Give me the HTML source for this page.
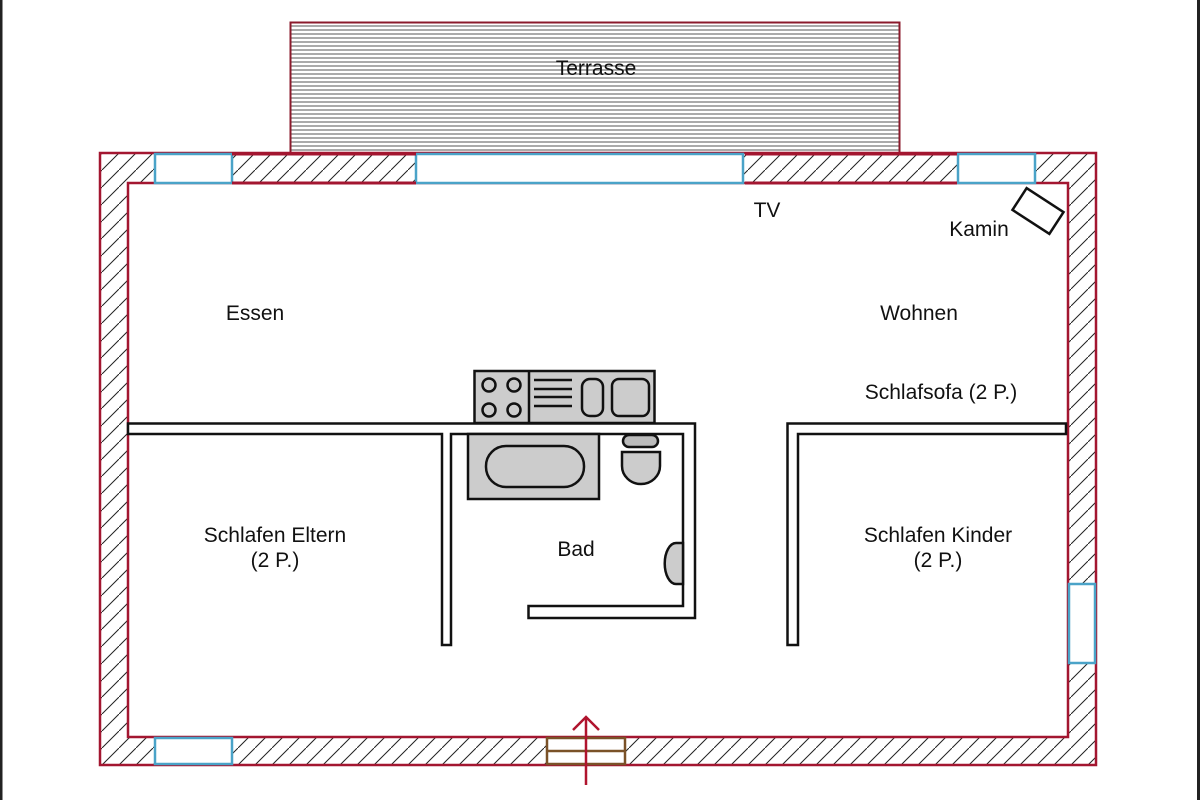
<!DOCTYPE html>
<html><head><meta charset="utf-8"><style>
html,body{margin:0;padding:0;background:#fff;}
svg{display:block}
text{font-family:"Liberation Sans",sans-serif;font-size:21px;fill:#111;text-anchor:middle}
</style></head><body>
<svg width="1200" height="800" viewBox="0 0 1200 800" xmlns="http://www.w3.org/2000/svg">
<defs>
<pattern id="h" patternUnits="userSpaceOnUse" width="17" height="17">
<rect width="17" height="17" fill="#fff"/>
<path d="M-2,19 L19,-2" stroke="#222" stroke-width="1"/>
</pattern>
<pattern id="t" patternUnits="userSpaceOnUse" width="10" height="4">
<rect width="10" height="4" fill="#fff"/>
<line x1="0" y1="2" x2="10" y2="2" stroke="#555" stroke-width="1"/>
</pattern>
</defs>
<rect x="0" y="0" width="2.5" height="800" fill="#222"/>
<rect x="1197" y="0" width="3" height="800" fill="#222"/>
<rect x="290.5" y="22.5" width="609" height="131" fill="url(#t)" stroke="#8b1a2b" stroke-width="2"/>
<path d="M100,153 H1096 V765 H100 Z M128,183 V737 H1068 V183 Z" fill="url(#h)" fill-rule="evenodd" stroke="#a31630" stroke-width="2.5"/>
<g fill="#fff" stroke="#4aa3c8" stroke-width="2.5">
<rect x="155" y="154" width="77" height="29"/>
<rect x="416" y="154" width="327" height="29"/>
<rect x="958" y="154" width="77" height="29"/>
<rect x="1069" y="584" width="26" height="79"/>
<rect x="155" y="738" width="77" height="26"/>
</g>
<g stroke="#a31630" stroke-width="3" fill="none">
<line x1="232" y1="154" x2="416" y2="154"/><line x1="232" y1="183" x2="416" y2="183"/>
<line x1="745" y1="154" x2="957" y2="154"/><line x1="745" y1="183" x2="957" y2="183"/>
</g>
<rect x="547" y="738" width="78" height="26" fill="#fff" stroke="#7a5228" stroke-width="2.5"/>
<line x1="547" y1="751" x2="625" y2="751" stroke="#7a5228" stroke-width="2.5"/>
<g stroke="#b0142e" stroke-width="2.5" fill="none">
<line x1="586" y1="717" x2="586" y2="785"/>
<polyline points="573,730 586,717 599,730"/>
</g>
<g fill="#fff" stroke="#111" stroke-width="2.5">
<path d="M128,423.5 H695 V618 H528.5 V606 H683 V434 H451 V645 H442 V434 H128 Z"/>
<path d="M787.5,423.5 H1066 V434 H798 V645 H787.5 Z"/>
</g>
<g stroke="#111" stroke-width="2.5" fill="#ccc">
<rect x="474.5" y="371" width="180" height="52"/>
<line x1="529" y1="371" x2="529" y2="423"/>
<circle cx="489" cy="385" r="6.5"/><circle cx="514" cy="385" r="6.5"/>
<circle cx="489" cy="410" r="6.5"/><circle cx="514" cy="410" r="6.5"/>
<line x1="534" y1="380" x2="572" y2="380"/><line x1="534" y1="389" x2="572" y2="389"/>
<line x1="534" y1="397" x2="572" y2="397"/><line x1="534" y1="406" x2="572" y2="406"/>
<rect x="582" y="379" width="21" height="37" rx="8"/>
<rect x="612" y="379" width="37" height="37" rx="7"/>
<rect x="468" y="434" width="131" height="65"/>
<rect x="486" y="446" width="98" height="41" rx="20"/>
<rect x="623" y="435" width="35" height="12" rx="6" fill="#bbb"/>
<path d="M622,452 H660 V466 A19,18 0 0 1 622,466 Z"/>
<path d="M683,543 H676 A11,20 0 0 0 676,584 H683 Z"/>
</g>
<rect x="-22" y="-13" width="44" height="26" fill="#fff" stroke="#111" stroke-width="2.5" transform="translate(1038,211) rotate(33)"/>
<text x="596" y="75">Terrasse</text>
<text x="767" y="217">TV</text>
<text x="979" y="236">Kamin</text>
<text x="255" y="320">Essen</text>
<text x="919" y="320">Wohnen</text>
<text x="941" y="399">Schlafsofa (2 P.)</text>
<text x="275" y="542">Schlafen Eltern</text>
<text x="275" y="567">(2 P.)</text>
<text x="576" y="556">Bad</text>
<text x="938" y="542">Schlafen Kinder</text>
<text x="938" y="567">(2 P.)</text>
</svg>
</body></html>
